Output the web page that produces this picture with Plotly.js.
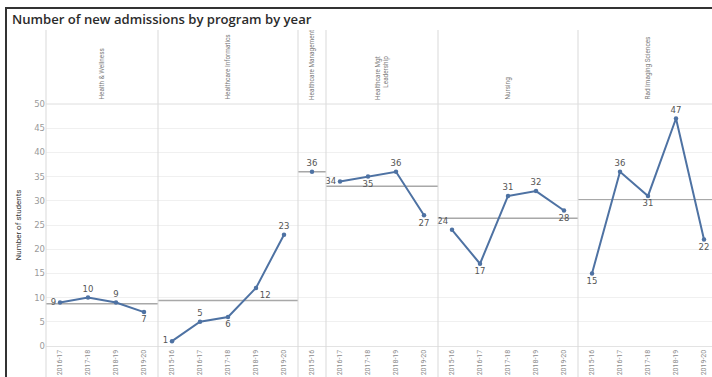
<!DOCTYPE html>
<html>
<head>
<meta charset="utf-8">
<script src="https://cdn.plot.ly/plotly-3.0.1.min.js"></script>
<style>
  html, body { margin: 0; padding: 0; overflow: hidden; background: #fff; }
  #chart { width: 720px; height: 377px; }
</style>
</head>
<body>
<div id="chart"></div>
<script>
// ---- Data ----
const programs = ["Health & Wellness", "Healthcare Informatics", "Healthcare Management",
                  "Healthcare Mgt<br>Leadership", "Nursing", "Rad Imaging Sciences"];
const yearsHW   = ["2016-17", "2017-18", "2018-19", "2019-20"];
const valuesHW  = [9, 10, 9, 7];
const yearsHI   = ["2015-16", "2016-17", "2017-18", "2018-19", "2019-20"];
const valuesHI  = [1, 5, 6, 12, 23];
const yearsHM   = ["2015-16"];
const valuesHM  = [36];
const yearsHML  = ["2016-17", "2017-18", "2018-19", "2019-20"];
const valuesHML = [34, 35, 36, 27];
const yearsN    = ["2015-16", "2016-17", "2017-18", "2018-19", "2019-20"];
const valuesN   = [24, 17, 31, 32, 28];
const yearsR    = ["2015-16", "2016-17", "2017-18", "2018-19", "2019-20"];
const valuesR   = [15, 36, 31, 47, 22];
const yTicks    = [0, 5, 10, 15, 20, 25, 30, 35, 40, 45, 50];

// ---- Styling (label placement) ----
const posHW  = ["middle left", "top center", "top center", "bottom center"];
const posHI  = ["middle left", "top center", "bottom center", "bottom right", "top center"];
const posHM  = ["top center"];
const posHML = ["middle left", "bottom center", "top center", "bottom center"];
const posN   = ["top left", "bottom center", "top center", "top center", "bottom center"];
const posR   = ["bottom center", "top center", "bottom center", "top center", "bottom center"];

const panels = [
  {x: yearsHW, y: valuesHW, pos: posHW},
  {x: yearsHI, y: valuesHI, pos: posHI},
  {x: yearsHM, y: valuesHM, pos: posHM},
  {x: yearsHML, y: valuesHML, pos: posHML},
  {x: yearsN, y: valuesN, pos: posN},
  {x: yearsR, y: valuesR, pos: posR}
];

const lineColor = "#4e72a3";
const sepColor = "#d9d9d9";
const narrow = "Roboto, 'DejaVu Sans Condensed', sans-serif";

// geometry in pixels
const W = 720, H = 377;
const L = 46, R = 718, T = 104, B = 346;
const plotW = R - L, plotH = B - T;
const py = px => (B - px) / plotH;      // pixel y -> paper
const pxp = px => (px - L) / plotW;     // pixel x -> paper

const totalCats = panels.reduce((s, p) => s + p.x.length, 0);
let acc = 0;
const domains = panels.map(p => {
  const d0 = acc / totalCats;
  acc += p.x.length;
  return [d0, acc / totalCats];
});

const traces = [];
const layout = {
  width: W, height: H,
  margin: {l: L, r: W - R, t: T, b: H - B, pad: 0},
  paper_bgcolor: "#ffffff",
  plot_bgcolor: "#ffffff",
  showlegend: false,
  title: {
    text: "Number of new admissions by program by year",
    font: {family: "'Open Sans', 'Noto Sans', sans-serif", size: 13.1, color: "#2b2b2b", weight: 600},
    x: 12 / W, xanchor: "left", y: 1 - 19 / H, yanchor: "middle", xref: "container", yref: "container"
  },
  yaxis: {
    range: [0, 50],
    tickvals: yTicks,
    showgrid: true, gridcolor: "#f0f0f0", gridwidth: 1,
    zeroline: false, showline: false,
    ticks: "", ticklen: 0,
    tickfont: {family: "'DejaVu Sans', sans-serif", size: 8.5, color: "#9a9a9a"},
    title: {text: "Number of students", font: {family: narrow, size: 8, color: "#333"}, standoff: 11},
    fixedrange: true
  },
  shapes: [],
  annotations: []
};

panels.forEach((p, i) => {
  const ax = i === 0 ? "x" : "x" + (i + 1);
  const axKey = i === 0 ? "xaxis" : "xaxis" + (i + 1);
  layout[axKey] = {
    domain: domains[i],
    anchor: "y",
    type: "category",
    categoryorder: "array",
    categoryarray: p.x,
    range: [-0.5, p.x.length - 0.5],
    showgrid: false, zeroline: false,
    showline: true, linecolor: "#e3e3e3", linewidth: 1,
    ticks: "", tickangle: -90,
    tickfont: {family: narrow, size: 7, color: "#8a8a8a"},
    fixedrange: true
  };
  traces.push({
    type: "scatter", mode: "lines+markers+text",
    x: p.x, y: p.y, xaxis: ax, yaxis: "y",
    line: {color: lineColor, width: 2},
    marker: {color: lineColor, size: 4.5},
    text: p.y.map(String),
    textposition: p.pos,
    textfont: {family: "'DejaVu Sans', sans-serif", size: 8.5, color: "#555"},
    cliponaxis: false,
    hoverinfo: "x+y"
  });
  // average reference line
  const mean = p.y.reduce((a, b) => a + b, 0) / p.y.length;
  layout.shapes.push({
    type: "line", xref: ax + " domain", yref: "y",
    x0: 0, x1: 1, y0: mean, y1: mean,
    line: {color: "#a8a8a8", width: 1.5}, layer: "below"
  });
  // header label
  layout.annotations.push({
    text: programs[i], xref: "paper", yref: "paper",
    x: (domains[i][0] + domains[i][1]) / 2, y: py(101),
    xanchor: "center", yanchor: "bottom", textangle: -90,
    showarrow: false, align: "right", borderpad: 0,
    font: {family: narrow, size: 6.4, color: "#7a7a7a"}
  });
  // panel separator (left edge of each panel)
  layout.shapes.push({
    type: "line", xref: "paper", yref: "paper",
    x0: domains[i][0], x1: domains[i][0], y0: py(30), y1: py(H + 5),
    line: {color: sepColor, width: 1}, layer: "above"
  });
});

// header bottom line
layout.shapes.push({
  type: "line", xref: "paper", yref: "paper",
  x0: 0, x1: 1.05, y0: 1, y1: 1,
  line: {color: "#dedede", width: 1}, layer: "above"
});
// outer frame (left and top)
layout.shapes.push({
  type: "line", xref: "paper", yref: "paper",
  x0: pxp(6), x1: pxp(6), y0: py(7), y1: py(H + 5),
  line: {color: "#333", width: 2}
});
layout.shapes.push({
  type: "line", xref: "paper", yref: "paper",
  x0: pxp(5), x1: pxp(W + 5), y0: py(8), y1: py(8),
  line: {color: "#333", width: 2}
});

Plotly.newPlot("chart", traces, layout, {displayModeBar: false, staticPlot: true});
</script>
</body>
</html>
